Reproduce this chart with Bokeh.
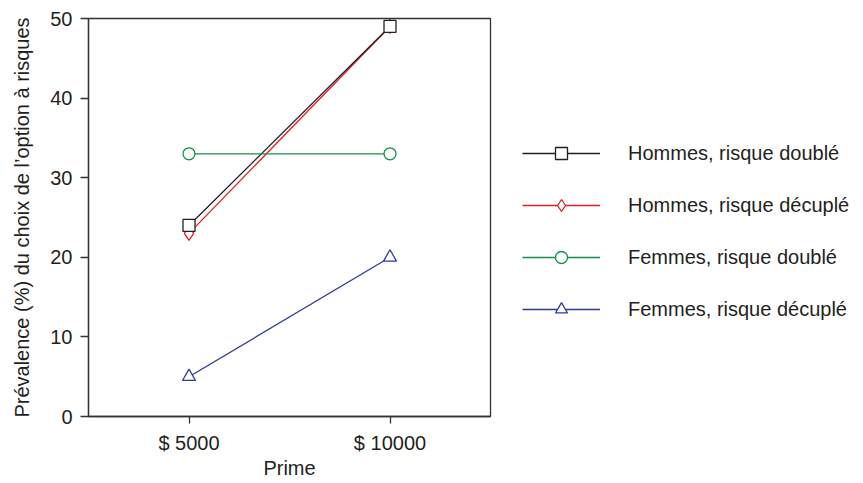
from bokeh.plotting import figure
from bokeh.layouts import row
from bokeh.models import FactorRange, Range1d, Legend, LegendItem, FixedTicker
from bokeh.embed import file_html
from bokeh.resources import INLINE

primes = ["$ 5000", "$ 10000"]
hommes_double = [24, 49]
hommes_decuple = [23, 49]
femmes_double = [33, 33]
femmes_decuple = [5, 20]
labels = ["Hommes, risque doublé", "Hommes, risque décuplé",
          "Femmes, risque doublé", "Femmes, risque décuplé"]
y_ticks = [0, 10, 20, 30, 40, 50]

FONT = "Liberation Sans"
TXT = "#231f20"
AX = "#333333"
H = 481

p = figure(width=492, height=H, x_range=FactorRange(factors=primes),
           y_range=Range1d(0, 50), output_backend="svg", toolbar_location=None,
           min_border_left=88, min_border_right=2, min_border_top=18,
           min_border_bottom=60)
p.grid.visible = False
p.outline_line_color = AX
p.outline_line_width = 1.3
p.background_fill_color = "white"
p.border_fill_color = "white"

for ax in (p.xaxis[0], p.yaxis[0]):
    ax.axis_line_color = AX
    ax.axis_line_width = 1.3
    ax.major_tick_line_color = AX
    ax.major_tick_line_width = 1.3
    ax.major_tick_in = 0
    ax.minor_tick_line_color = None
    ax.major_label_text_font = FONT
    ax.major_label_text_font_size = "20px"
    ax.major_label_text_color = TXT
    ax.axis_label_text_font = FONT
    ax.axis_label_text_font_size = "20px"
    ax.axis_label_text_font_style = "normal"
    ax.axis_label_text_color = TXT

p.xaxis.axis_label = "Prime"
p.xaxis.major_tick_out = 7
p.xaxis.major_label_standoff = 8
p.xaxis.axis_label_standoff = 0
p.yaxis.axis_label = "Prévalence (%) du choix de l\u2019option à risques"
p.yaxis.ticker = FixedTicker(ticks=y_ticks)
p.yaxis.major_tick_out = 8
p.yaxis.major_label_standoff = 8
p.yaxis.axis_label_standoff = 14

series = [
    (hommes_decuple, "#e31e24", "diamond", 14),
    (hommes_double, "#231f20", "square", 12),
    (femmes_double, "#12914a", "circle", 12),
    (femmes_decuple, "#2e3c96", "triangle", 13),
]
for vals, col, mk, sz in series:
    p.line(primes, vals, line_color=col, line_width=1.3)
    p.scatter(primes, vals, marker=mk, size=sz, line_color=col,
              fill_color="white", line_width=1.3)

# legend panel (its copies of the series lie outside its visible range)
p2 = figure(width=363, height=H, x_range=FactorRange(factors=primes),
            y_range=Range1d(-200, -100),
            output_backend="svg", toolbar_location=None,
            x_axis_location=None, y_axis_location=None,
            min_border_left=0, min_border_right=0, min_border_top=0,
            min_border_bottom=0)
p2.grid.visible = False
p2.outline_line_color = None
p2.background_fill_color = "white"
p2.border_fill_color = "white"

rend = {}
for vals, col, mk, sz in series:
    l = p2.line(primes, vals, line_color=col, line_width=1.3)
    s = p2.scatter(primes, vals, marker=mk, line_color=col,
                   fill_color="white", line_width=1.3)
    rend[mk] = [l, s]

items = [
    LegendItem(label=labels[0], renderers=rend["square"]),
    LegendItem(label=labels[1], renderers=rend["diamond"]),
    LegendItem(label=labels[2], renderers=rend["circle"]),
    LegendItem(label=labels[3], renderers=rend["triangle"]),
]
legend = Legend(items=items, location=(30, 92), padding=0, margin=0,
                border_line_color=None, background_fill_alpha=0,
                glyph_width=78, glyph_height=30, label_height=20,
                label_standoff=28, spacing=22,
                label_text_font=FONT, label_text_font_size="20px",
                label_text_color=TXT)
p2.add_layout(legend, "center")

layout = row(p, p2, spacing=0)
open("out.html", "w").write(file_html(layout, INLINE))
